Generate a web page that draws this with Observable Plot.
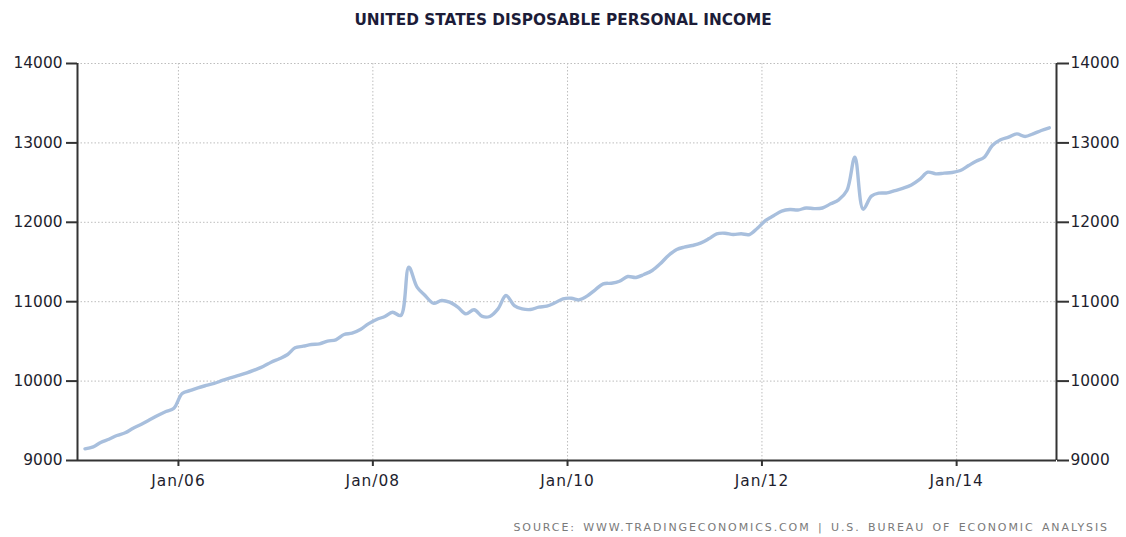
<!DOCTYPE html>
<html><head><meta charset="utf-8">
<script src="https://cdn.jsdelivr.net/npm/d3@7"></script>
<script src="https://cdn.jsdelivr.net/npm/@observablehq/plot@0.6"></script>
<style>
body{margin:0;background:#fff;}
#wrap{position:relative;width:1126px;height:537px;overflow:hidden;}
#chart{position:absolute;left:0;top:0;}
#title{position:absolute;top:11px;left:0;width:1126px;text-align:center;font:bold 15.3px "DejaVu Sans",sans-serif;color:#1c1c38;}
#src{position:absolute;top:521px;right:17px;font:11px "DejaVu Sans",sans-serif;color:#7a7a7a;letter-spacing:1.9px;word-spacing:2px;white-space:pre;}
.xax text{letter-spacing:1px;}
</style></head>
<body>
<div id="wrap">
<div id="chart"></div>
<div id="title">UNITED STATES DISPOSABLE PERSONAL INCOME</div>
<div id="src">SOURCE: WWW.TRADINGECONOMICS.COM | U.S. BUREAU OF ECONOMIC ANALYSIS</div>
</div>
<script>
// Monthly values, Jan 2005 .. Dec 2014 (USD billion)
const startYear = 2005;
const values = [
 9147, 9172, 9227, 9268, 9315, 9349, 9407, 9457, 9512, 9567, 9617, 9659,
 9844, 9882, 9916, 9945, 9970, 10008, 10041, 10071, 10104, 10142, 10184, 10238,
 10281, 10335, 10419, 10440, 10461, 10469, 10503, 10520, 10587, 10604, 10650, 10721,
 10776, 10814, 10868, 10826, 11435, 11183, 11078, 10981, 11015, 10994, 10931, 10847,
 10898, 10814, 10814, 10910, 11078, 10952, 10910, 10902, 10931, 10944, 10986, 11036,
 11044, 11024, 11070, 11150, 11225, 11233, 11258, 11317, 11305, 11343, 11393, 11477,
 11582, 11657, 11687, 11708, 11737, 11792, 11855, 11863, 11846, 11855, 11846, 11926,
 12023, 12086, 12140, 12161, 12155, 12180, 12172, 12180, 12233, 12283, 12400, 12820,
 12165, 12330, 12367, 12371, 12400, 12430, 12470, 12540, 12631, 12610, 12619, 12627,
 12652, 12715, 12770, 12820, 12967, 13039, 13072, 13114, 13081, 13114, 13156, 13190
];
const yTicks = [9000, 10000, 11000, 12000, 13000, 14000];
const xTickYears = [2006, 2008, 2010, 2012, 2014];
const xDomain = [new Date(Date.UTC(2004, 11, 18)), new Date(Date.UTC(2015, 0, 11))];

const data = values.map((v, i) => ({date: new Date(Date.UTC(startYear, i, 15)), value: v}));
const xTicks = xTickYears.map(y => new Date(Date.UTC(y, 0, 1)));
const fmtX = d3.utcFormat("%b/%y");
const axisColor = "#333";

const chart = Plot.plot({
  width: 1126, height: 537,
  marginTop: 63, marginBottom: 77, marginLeft: 77, marginRight: 70,
  x: {type: "utc", domain: xDomain},
  y: {domain: [9000, 14000]},
  style: {fontFamily: "'DejaVu Sans', sans-serif", fontSize: "15.4px", color: "#1e1e2e", background: "white"},
  marks: [
    Plot.gridY(yTicks, {stroke: "#bdbdbd", strokeOpacity: 1, strokeDasharray: "1.5,2"}),
    Plot.gridX(xTicks, {stroke: "#bdbdbd", strokeOpacity: 1, strokeDasharray: "1.5,2"}),
    Plot.line(data, {x: "date", y: "value", stroke: "#a8bfdd", strokeWidth: 3.4, curve: "catmull-rom"}),
    Plot.ruleY([yTicks[0]], {stroke: axisColor, strokeWidth: 2}),
    Plot.ruleX(xDomain, {stroke: axisColor, strokeWidth: 2}),
    Plot.axisY(yTicks, {anchor: "left", tickSize: 11, tickPadding: 4, stroke: axisColor, strokeWidth: 2, label: null, tickFormat: d => String(d)}),
    Plot.axisY(yTicks, {anchor: "right", tickSize: 12, tickPadding: 2, stroke: axisColor, strokeWidth: 2, label: null, tickFormat: d => String(d)}),
    Plot.axisX(xTicks, {anchor: "bottom", tickSize: 6, tickPadding: 9, stroke: axisColor, strokeWidth: 2, label: null, tickFormat: fmtX, className: "xax"})
  ]
});
document.getElementById("chart").appendChild(chart);
</script>
</body></html>
